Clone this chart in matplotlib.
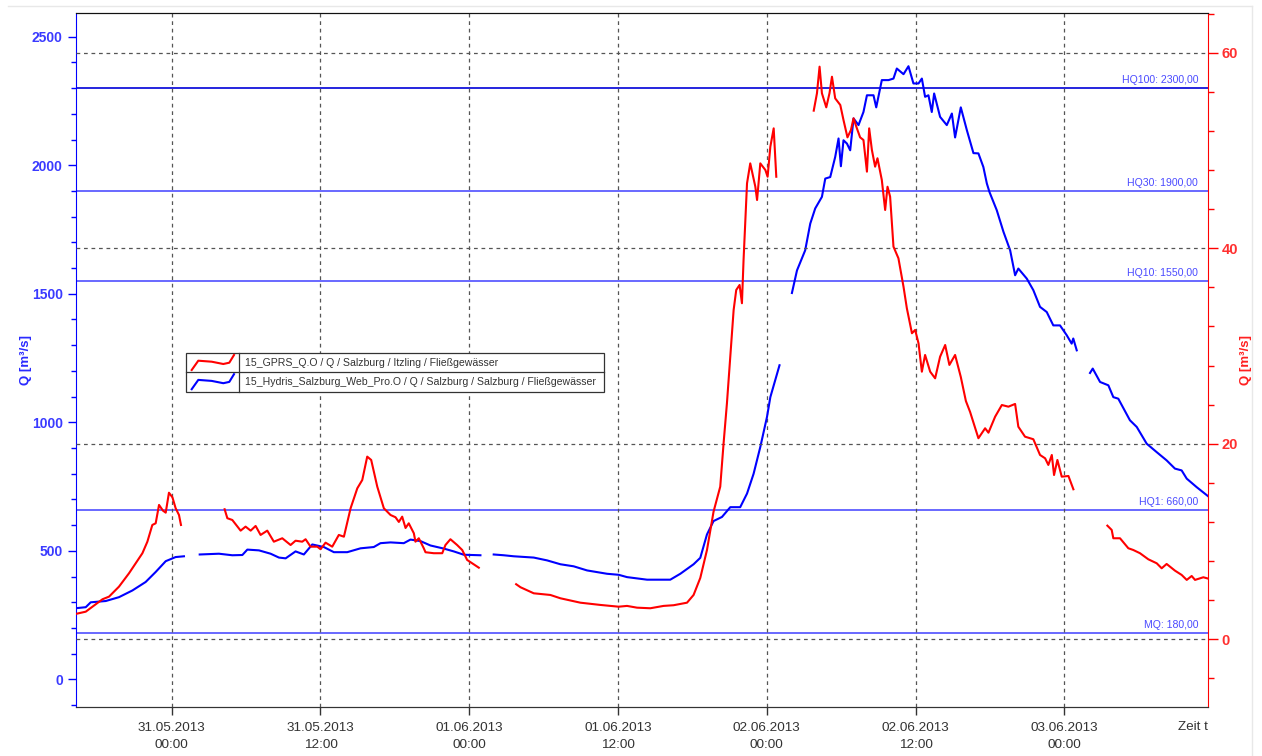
import numpy as np
import matplotlib
matplotlib.use("Agg")
import matplotlib.pyplot as plt
import matplotlib.dates as mdates
from matplotlib.ticker import MultipleLocator
from matplotlib.lines import Line2D
from matplotlib.patches import Rectangle
import datetime

plt.rcParams['font.family'] = ['Liberation Sans', 'DejaVu Sans']

nan = np.nan

# Zeitachse: Stunden ab 31.05.2013 00:00, nan = Datenluecke
start = datetime.datetime(2013, 5, 31, 0, 0)

# 15_Hydris_Salzburg_Web_Pro.O  (linke Achse, m3/s)
hydris_h = [
    -7.74, -6.93, -6.53, -5.32, -4.25, -3.17, -2.10, -1.29, -0.48, 0.32, 0.99,
    nan,
    2.26, 3.81, 4.89, 5.70, 6.10, 7.04, 7.98, 8.65, 9.19, 9.99, 10.66, 11.34, 12.27, 13.08,
    14.16, 15.23, 16.30, 16.84, 17.65, 18.72, 19.26, 20.07, 20.87, 21.94, 22.75, 23.56, 24.90,
    nan,
    25.97, 26.78, 27.59, 29.20, 30.28, 31.35, 32.42, 33.50, 35.11, 36.05, 36.72, 38.34, 40.21,
    41.02, 42.09, 42.63, 43.17, 43.70, 44.38, 45.05, 45.85, 46.40, 46.93, 47.47, 48.01, 48.28, 49.02,
    nan,
    50.02, 50.43, 51.09, 51.50, 51.90, 52.44, 52.71, 53.11, 53.51, 53.78, 53.97, 54.18, 54.46,
    54.72, 54.99, 55.39, 55.79, 56.07, 56.60, 56.82, 57.27, 57.81, 58.21, 58.48, 59.02, 59.42,
    59.82, 60.23, 60.50, 60.76, 61.03, 61.30, 61.49, 61.97, 62.51, 62.92, 63.18, 63.64, 64.13,
    64.66, 65.06, 65.46, 65.74, 65.95, 66.54, 67.08, 67.62, 68.02, 68.28, 68.96, 69.49, 70.03,
    70.57, 71.10, 71.64, 72.18, 72.58, 72.71, 72.99,
    nan,
    74.06, 74.28, 74.87, 75.54, 75.94, 76.34, 77.28, 77.83, 78.63, 79.44, 80.24, 80.91, 81.45,
    81.86, 82.66, 83.60,
]
hydris_q = [
    277, 281, 300, 305, 320, 346, 379, 418, 460, 476, 479,
    nan,
    486, 489, 483, 484, 505, 502, 489, 474, 471, 498, 486, 525, 515, 495,
    495, 510, 515, 530, 533, 530, 544, 538, 521, 509, 498, 485, 483,
    nan,
    486, 483, 479, 474, 463, 448, 440, 424, 411, 407, 398, 388, 388,
    411, 448, 473, 564, 616, 632, 670, 670, 723, 800, 904, 1021, 1098, 1222,
    nan,
    1503, 1591, 1669, 1773, 1832, 1877, 1948, 1954, 2032, 2104, 1996, 2097, 2084,
    2058, 2182, 2156, 2207, 2272, 2272, 2225, 2331, 2331, 2337, 2376, 2354, 2385,
    2318, 2318, 2337, 2266, 2272, 2207, 2279, 2188, 2156, 2201, 2108, 2225, 2136,
    2047, 2046, 1993, 1929, 1896, 1825, 1741, 1669, 1572, 1598, 1559, 1514, 1449,
    1429, 1377, 1377, 1339, 1306, 1326, 1280,
    nan,
    1192, 1209, 1157, 1144, 1098, 1092, 1008, 982, 917, 884, 852, 820, 813,
    781, 748, 712,
]

# 15_GPRS_Q.O  (rechte Achse, m3/s)
gprs_h = [
    -7.74, -6.93, -6.39, -5.58, -5.05, -4.25, -3.44, -2.90, -2.36, -1.96, -1.56, -1.29, -1.02,
    -0.70, -0.48, -0.22, 0.06, 0.32, 0.59, 0.75,
    nan,
    4.27, 4.49, 4.89, 5.56, 5.96, 6.37, 6.77, 7.17, 7.71, 8.24, 8.92, 9.59, 9.99, 10.53, 10.80,
    11.20, 11.74, 12.01, 12.41, 12.95, 13.48, 13.89, 14.43, 14.97, 15.37, 15.77, 16.09, 16.58,
    17.11, 17.65, 18.05, 18.32, 18.59, 18.86, 19.12, 19.53, 19.66, 19.93, 20.33, 20.47, 21.14,
    21.82, 22.08, 22.48, 23.02, 23.43, 23.83, 24.23, 24.77,
    nan,
    27.78, 28.13, 29.20, 30.54, 31.35, 32.96, 34.57, 36.05, 36.72, 37.53, 38.60, 39.67, 40.48,
    41.56, 42.09, 42.63, 43.17, 43.70, 44.24, 44.51, 44.78, 45.05, 45.32, 45.53, 45.80, 45.99,
    46.12, 46.40, 46.66, 47.07, 47.21, 47.47, 47.88, 48.06, 48.28, 48.55, 48.76,
    nan,
    51.78, 52.04, 52.25, 52.44, 52.79, 53.05, 53.25, 53.51, 53.92, 54.18, 54.50, 54.78, 54.99,
    55.26, 55.52, 55.79, 56.07, 56.25, 56.47, 56.73, 56.92, 57.27, 57.54, 57.73, 57.94, 58.21,
    58.61, 59.02, 59.29, 59.70, 59.96, 60.23, 60.50, 60.76, 61.17, 61.57, 61.97, 62.38, 62.72,
    63.18, 63.64, 64.05, 64.39, 65.06, 65.60, 65.87, 66.41, 66.95, 67.48, 68.02, 68.28, 68.82,
    69.49, 70.03, 70.44, 70.70, 70.98, 71.16, 71.43, 71.78, 72.32, 72.72,
    nan,
    75.46, 75.81, 75.94, 76.48, 77.15, 77.55, 78.09, 78.76, 79.44, 79.84, 80.24, 80.91, 81.45,
    81.86, 82.26, 82.53, 83.20, 83.60,
]
gprs_q = [
    2.59, 2.82, 3.33, 4.09, 4.36, 5.38, 6.75, 7.77, 8.80, 9.98, 11.69, 11.86, 13.74,
    13.15, 12.95, 14.99, 14.52, 13.40, 12.71, 11.69,
    nan,
    13.30, 12.38, 12.20, 11.11, 11.52, 11.11, 11.59, 10.67, 11.11, 9.98, 10.33, 9.64, 10.08, 9.98, 10.23,
    9.47, 9.47, 9.21, 9.88, 9.47, 10.67, 10.49, 13.40, 15.44, 16.29, 18.68, 18.34, 15.61,
    13.40, 12.71, 12.48, 12.00, 12.54, 11.38, 11.86, 10.84, 9.98, 10.33, 9.31, 8.90, 8.80,
    8.80, 9.64, 10.23, 9.64, 9.13, 8.11, 7.77, 7.32,
    nan,
    5.63, 5.32, 4.70, 4.53, 4.19, 3.74, 3.51, 3.33, 3.41, 3.23, 3.17, 3.41, 3.48,
    3.74, 4.53, 6.27, 9.13, 13.05, 15.61, 20.05, 24.14, 28.90, 33.68, 35.73, 36.24, 34.37,
    38.79, 46.64, 48.68, 46.29, 44.93, 48.68, 48.00, 47.31, 50.38, 52.26, 47.31,
    nan,
    54.07, 55.85, 58.57, 55.85, 54.41, 55.85, 57.54, 55.33, 54.65, 53.11, 51.34, 52.09, 53.29,
    52.26, 51.34, 51.07, 47.83, 52.26, 50.05, 48.34, 49.20, 46.98, 43.91, 46.29, 45.27, 40.16,
    38.97, 36.06, 33.85, 31.30, 31.64, 30.27, 27.37, 29.08, 27.37, 26.69, 28.90, 30.10, 28.06,
    29.08, 26.83, 24.37, 23.25, 20.56, 21.58, 21.13, 22.77, 23.96, 23.79, 24.07, 21.74, 20.72,
    20.46, 18.85, 18.51, 17.83, 18.85, 16.80, 18.34, 16.63, 16.70, 15.34,
    nan,
    11.62, 11.18, 10.33, 10.33, 9.31, 9.13, 8.80, 8.18, 7.77, 7.26, 7.70, 7.02, 6.58,
    6.07, 6.47, 6.07, 6.34, 6.20,
]
assert len(hydris_h) == len(hydris_q) and len(gprs_h) == len(gprs_q)

# Kennwerte Pegel Salzburg
kenn_namen = ['MQ', 'HQ1', 'HQ10', 'HQ30', 'HQ100']
kenn_werte = [180, 660, 1550, 1900, 2300]

legende = ['15_GPRS_Q.O / Q / Salzburg / Itzling / Fließgewässer',
           '15_Hydris_Salzburg_Web_Pro.O / Q / Salzburg / Salzburg / Fließgewässer']

links_ticks = [0, 500, 1000, 1500, 2000, 2500]
rechts_ticks = [0, 20, 40, 60]
x_von, x_bis = -7.74, 83.6


def zu_datum(stunden):
    return mdates.date2num(start) + np.asarray(stunden, dtype=float) / 24.0


W, H = 1262, 756
fig = plt.figure(figsize=(W / 100, H / 100), dpi=100)
fig.patch.set_facecolor('white')
ax1 = fig.add_axes([75.7 / W, 1 - 706.7 / H, (1208.3 - 75.7) / W, (706.7 - 13) / H])
ax2 = ax1.twinx()

blau = '#0000ff'
rot = '#ff0000'

# Kennwert-Linien
for name, wert in zip(kenn_namen, kenn_werte):
    farbe = '#0000d8' if wert == max(kenn_werte) else '#4f4fff'
    ax1.axhline(wert, color=farbe, lw=1.2, zorder=1)
    txt = f'{name}: {wert:.2f}'.replace('.', ',')
    ax1.annotate(txt, xy=(0.991, wert), xycoords=ax1.get_yaxis_transform(),
                 xytext=(0, 2), textcoords='offset points', ha='right', va='bottom',
                 fontsize=7.6, color='#4a4aff')

ax1.plot(zu_datum(hydris_h), hydris_q, color=blau, lw=1.5, zorder=3)
ax2.plot(zu_datum(gprs_h), gprs_q, color=rot, lw=1.5, zorder=3)

ax1.set_xlim(zu_datum([x_von, x_bis]))
ax1.set_ylim(-106, 2592)
ax2.set_ylim(-6.9, 64.06)

# x-Achse
tick_h = np.arange(0, 73, 12)
ax1.set_xticks(zu_datum(tick_h),
               labels=[(start + datetime.timedelta(hours=int(h))).strftime('%d.%m.%Y\n%H:%M') for h in tick_h],
               fontsize=9.7, color='#333333', linespacing=1.5)
ax1.tick_params(axis='x', length=5.8, width=1, color='#333333', pad=5.5)
ax1.grid(axis='x', color='#555555', ls=(0, (3, 3)), lw=0.9)

# linke Achse
ax1.set_yticks(links_ticks, labels=[str(v) for v in links_ticks],
               fontsize=10, fontweight='bold', color='#3a3aff')
ax1.yaxis.set_minor_locator(MultipleLocator(100))
ax1.tick_params(axis='y', which='major', length=5.8, width=1, color=blau, pad=3.5)
ax1.tick_params(axis='y', which='minor', length=3.6, width=1, color=blau)
ax1.set_ylabel('Q [m³/s]', color='#2a2aff', fontweight='bold', fontsize=9.5)
ax1.yaxis.set_label_coords(-0.0386, 0.5)

# rechte Achse
ax2.set_yticks(rechts_ticks, labels=[str(v) for v in rechts_ticks],
               fontsize=10.5, fontweight='bold', color='#ff3030')
ax2.yaxis.set_minor_locator(MultipleLocator(4))
ax2.tick_params(axis='y', which='major', length=7.2, width=1, color=rot, pad=2.5)
ax2.tick_params(axis='y', which='minor', length=4.3, width=1, color=rot)
ax2.set_ylabel('Q [m³/s]', color='#ff2020', fontweight='bold', fontsize=9.5)
ax2.yaxis.set_label_coords(1.028, 0.5)
ax2.grid(axis='y', color='#555555', ls=(0, (3, 3)), lw=0.9)

for ax in (ax1, ax2):
    ax.spines['top'].set_color('#111111')
    ax.spines['bottom'].set_color('#333333')
ax1.spines['left'].set_color(blau)
ax1.spines['right'].set_visible(False)
ax2.spines['left'].set_visible(False)
ax2.spines['right'].set_color(rot)

fig.text(1193 / W, 1 - 727 / H, 'Zeit t', ha='center', va='center', fontsize=9.7, color='#333333')

# Legende als Tabelle
def fx(px):
    return px / W


def fy(py):
    return 1 - py / H


box_l, box_r, box_o, box_u, spalte = 186, 604, 353.3, 391.7, 239.3
fig.add_artist(Rectangle((fx(box_l), fy(box_u)), fx(box_r) - fx(box_l), fy(box_o) - fy(box_u),
                         transform=fig.transFigure, facecolor='white', edgecolor='#333333', lw=0.9))
mitte = (box_o + box_u) / 2
fig.add_artist(Line2D([fx(box_l), fx(box_r)], [fy(mitte), fy(mitte)], transform=fig.transFigure,
                      color='#333333', lw=0.9))
fig.add_artist(Line2D([fx(spalte), fx(spalte)], [fy(box_o), fy(box_u)], transform=fig.transFigure,
                      color='#333333', lw=0.9))
symbol_x = np.array([191.7, 198.3, 211.7, 223.3, 229.3, 234.0])
symbol_y = np.array([15.0, 5.7, 6.7, 9.0, 7.7, 0.0])
for i, (name, farbe) in enumerate(zip(legende, [rot, blau])):
    oben = box_o + i * (mitte - box_o)
    fig.add_artist(Line2D(fx(symbol_x), fy(oben + 1.7 + symbol_y), transform=fig.transFigure,
                          color=farbe, lw=1.5))
    fig.text(fx(245), fy(oben + (mitte - box_o) / 2), name, ha='left', va='center',
             fontsize=7.6, color='#333333')

# heller Fensterrand
fig.add_artist(Line2D([fx(8), fx(1252)], [fy(5.5), fy(5.5)], transform=fig.transFigure, color='#e8e8e8', lw=1))
fig.add_artist(Line2D([fx(1252), fx(1252)], [fy(5.5), 0], transform=fig.transFigure, color='#e8e8e8', lw=1))

fig.savefig('out.png', dpi=100)
